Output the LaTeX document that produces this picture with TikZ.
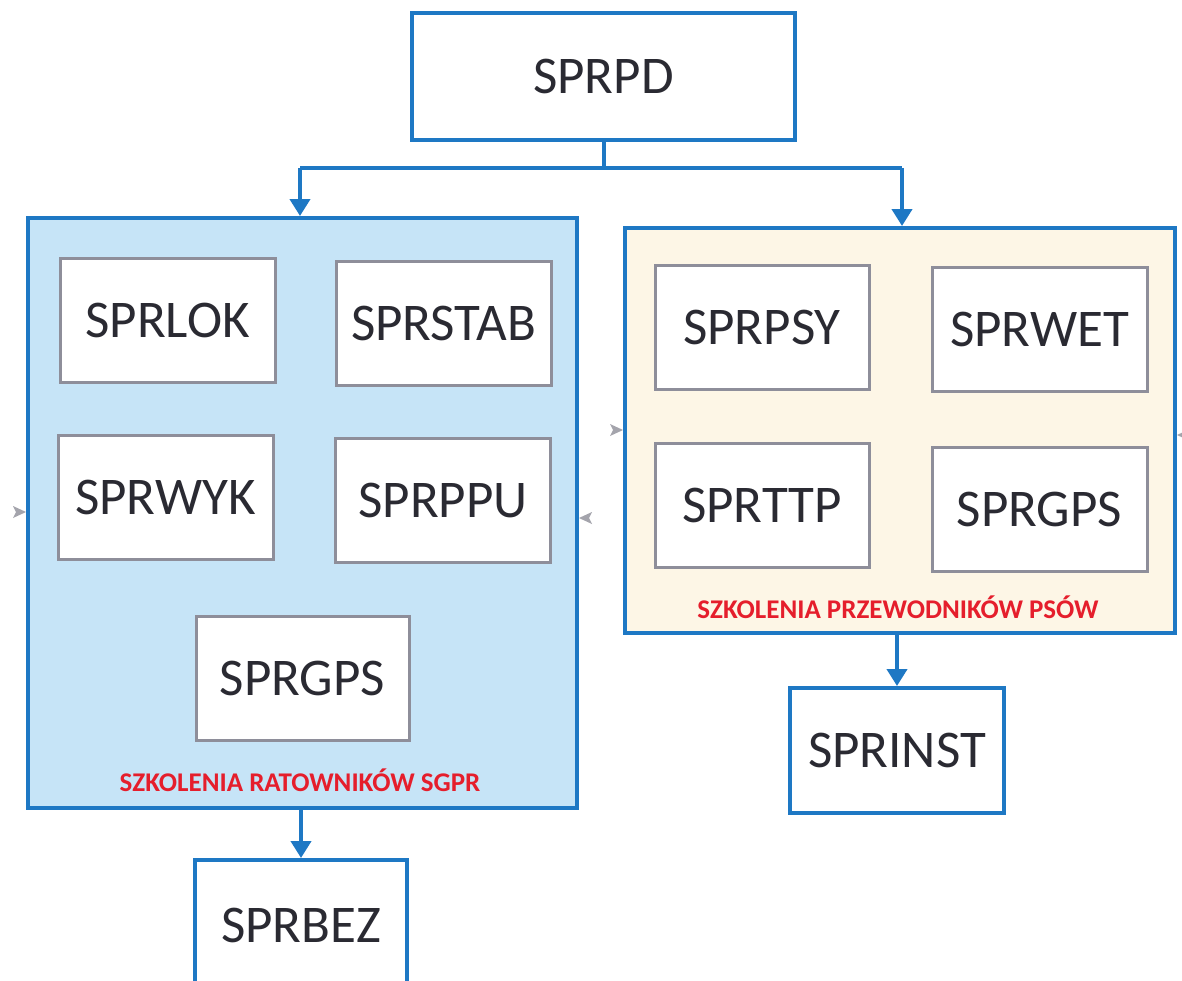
\documentclass[tikz,border=0pt]{standalone}
\usepackage{fontspec}
\setmainfont{Carlito}
\usetikzlibrary{arrows.meta,calc}
\definecolor{bl}{HTML}{1E78C4}
\definecolor{lbl}{HTML}{C6E4F7}
\definecolor{crm}{HTML}{FDF6E6}
\definecolor{gb}{HTML}{8E8E9A}
\definecolor{txt}{HTML}{2A2A32}
\definecolor{rd}{HTML}{E51E2C}
\definecolor{ga}{HTML}{A4A4AC}
\begin{document}
\begin{tikzpicture}[x=1pt,y=-1pt,
  bluebox/.style={draw=bl,line width=4pt,fill=white,inner sep=0pt,text=txt,font=\fontsize{53}{60}\selectfont},
  group/.style={draw=bl,line width=4pt,inner sep=0pt},
  inbox/.style={draw=gb,line width=3pt,fill=white,inner sep=0pt,text=txt,font=\fontsize{53}{60}\selectfont,minimum width=215pt,minimum height=124pt},
  lab/.style={text=rd,font=\bfseries\fontsize{27}{30}\selectfont,inner sep=0pt},
  conn/.style={draw=bl,line width=4pt},
  arr/.style={conn,-{Triangle[width=20pt,length=17pt]}},
  gtri/.style={fill=ga,draw=none}]
\useasboundingbox (0,0) rectangle (1182,980);
\fill[white] (0,0) rectangle (1182,980);
% containers
\node[group,fill=lbl,minimum width=549pt,minimum height=590pt] (L) at (302.5,513) {};
\node[group,fill=crm,minimum width=550pt,minimum height=405pt] (R) at (900,430.5) {};
% top
\node[bluebox,minimum width=383pt,minimum height=127pt] (pd) at (603.5,76.5) {SPRPD};
% inner boxes left
\node[inbox] (lok) at (167.5,320) {SPRLOK};
\node[inbox] (stab) at (443.5,323.5) {SPRSTAB};
\node[inbox] (wyk) at (165.5,497.5) {SPRWYK};
\node[inbox] (ppu) at (443,500.5) {SPRPPU};
\node[inbox,minimum width=213pt] (gpsl) at (302.5,678.5) {SPRGPS};
\node[lab] (labL) at (300,780) {SZKOLENIA RATOWNIKÓW SGPR};
% inner boxes right
\node[inbox,minimum width=214pt] (psy) at (762,327.5) {SPRPSY};
\node[inbox] (wet) at (1039.5,329.5) {SPRWET};
\node[inbox,minimum width=214pt] (ttp) at (762,505.5) {SPRTTP};
\node[inbox] (gpsr) at (1039.5,509.5) {SPRGPS};
\node[lab] (labR) at (898,607) {SZKOLENIA PRZEWODNIKÓW PSÓW};
% bottom boxes
\node[bluebox,minimum width=214pt,minimum height=125pt] (inst) at (897,750.5) {SPRINST};
\node[bluebox,minimum width=212pt,minimum height=130pt] (bez) at (301,925) {SPRBEZ};
% connectors
\coordinate (j) at ($(pd.south)+(0,28)$);
\coordinate (jl) at (300,168);
\coordinate (jr) at (902,168);
\draw[conn] (pd.south) -- (j);
\draw[conn] (jl) -- (jr);
\draw[arr] (jl) -- (L.north -| jl);
\draw[arr] (jr) -- (R.north -| jr);
\draw[arr] (L.south -| bez.north) -- (bez.north);
\draw[arr] (R.south -| inst.north) -- (inst.north);
% small grey arrowheads
\fill[gtri] (L.west |- 0,512) -- ++(-13,-6) -- ++(3,6) -- ++(-3,6) -- cycle;
\fill[gtri] (R.west |- 0,430) -- ++(-13,-6) -- ++(3,6) -- ++(-3,6) -- cycle;
\fill[gtri] (L.east |- 0,518) -- ++(13,-6) -- ++(-3,6) -- ++(3,6) -- cycle;
\fill[gtri] (R.east |- 0,435) -- ++(13,-6) -- ++(-3,6) -- ++(3,6) -- cycle;
\end{tikzpicture}
\end{document}
